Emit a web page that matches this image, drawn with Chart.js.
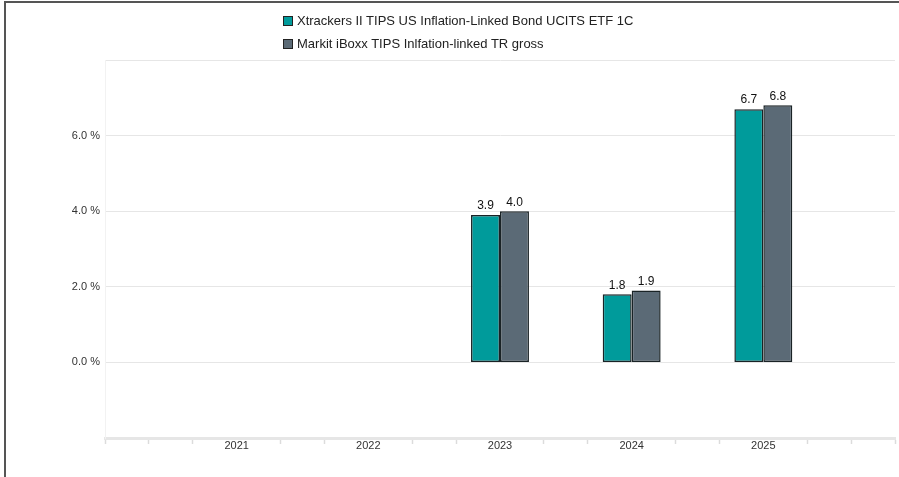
<!DOCTYPE html>
<html>
<head>
<meta charset="utf-8">
<script src="https://cdn.jsdelivr.net/npm/chart.js@4.4.1/dist/chart.umd.min.js"></script>
<style>
  html, body { margin: 0; padding: 0; background: #fff; }
  body { width: 899px; height: 477px; position: relative; overflow: hidden; font-family: "Liberation Sans", Arial, sans-serif; }
  #frame { position: absolute; left: 4px; top: 1px; width: 2000px; height: 2000px; border-top: 2px solid #555; border-left: 2px solid #555; pointer-events: none; }
  #wrap { position: absolute; left: 0; top: 0; width: 899px; height: 477px; }
  #legend { position: absolute; left: 283px; top: 9px; font-size: 13px; color: #222; line-height: 23px; }
  #legend .item { display: flex; align-items: center; white-space: nowrap; }
  #legend .box { width: 8px; height: 8px; border: 1px solid #222; margin-right: 4px; }
</style>
</head>
<body>
<div id="wrap"><canvas id="c" width="899" height="477"></canvas></div>
<div id="legend"></div>
<div id="frame"></div>
<script>
// ---- data ----
const years = ['2021', '2022', '2023', '2024', '2025'];
const etfValues = [null, null, 3.9, 1.8, 6.7];
const indexValues = [null, null, 4.0, 1.9, 6.8];
const seriesNames = ['Xtrackers II TIPS US Inflation-Linked Bond UCITS ETF 1C', 'Markit iBoxx TIPS Inlfation-linked TR gross'];
const yTickLabels = [0, 2, 4, 6];
const colors = ['#009b9b', '#5b6a76'];

// Build a padded category list: each year slot split in thirds so minor ticks fall between years
const SUB = 3;
const labels = [];
const etfPadded = [];
const idxPadded = [];
const slots = years.length + 1;
for (let i = 0; i <= slots * SUB; i++) {
  const yi = i / SUB - 1;
  if (i % SUB === 0 && yi >= 0 && yi < years.length) {
    labels.push(years[yi]);
    etfPadded.push(etfValues[yi]);
    idxPadded.push(indexValues[yi]);
  } else {
    labels.push('');
    etfPadded.push(null);
    idxPadded.push(null);
  }
}

const valueLabels = {
  id: 'valueLabels',
  afterDatasetsDraw(chart) {
    const ctx = chart.ctx;
    ctx.save();
    ctx.font = '12px "Liberation Sans", Arial, sans-serif';
    ctx.fillStyle = '#111';
    ctx.textAlign = 'center';
    ctx.textBaseline = 'bottom';
    chart.data.datasets.forEach((ds, di) => {
      const meta = chart.getDatasetMeta(di);
      meta.data.forEach((el, i) => {
        const v = ds.data[i];
        if (v === null || v === undefined) return;
        ctx.fillText(v.toFixed(1), el.x, el.y - 3);
      });
    });
    ctx.restore();
  }
};

const chart = new Chart(document.getElementById('c'), {
  type: 'bar',
  data: {
    labels: labels,
    datasets: [
      { label: seriesNames[0], data: etfPadded, backgroundColor: colors[0], borderColor: '#1a2326', borderWidth: 1.5, borderSkipped: false },
      { label: seriesNames[1], data: idxPadded, backgroundColor: colors[1], borderColor: '#1a2326', borderWidth: 1.5, borderSkipped: false }
    ]
  },
  options: {
    responsive: false,
    animation: false,
    devicePixelRatio: 1,
    layout: { padding: { top: 60, right: 4, left: 0, bottom: 0 } },
    datasets: { bar: { categoryPercentage: 1.32, barPercentage: 1.0 } },
    plugins: {
      legend: { display: false },
      tooltip: { enabled: false }
    },
    scales: {
      x: {
        offset: false,
        grid: {
          offset: false,
          drawOnChartArea: false,
          drawTicks: true,
          tickLength: 6,
          tickWidth: 1.5,
          tickColor: (c) => (c.tick && c.tick.label) ? 'rgba(0,0,0,0)' : '#dcdcdc'
        },
        border: { display: true, color: '#e6e6e6', width: 3 },
        ticks: {
          autoSkip: false,
          maxRotation: 0,
          padding: -5,
          color: '#333',
          font: { family: '"Liberation Sans", Arial, sans-serif', size: 11 }
        },
        afterFit: (s) => { s.height = 39; }
      },
      y: {
        min: -2,
        max: 8,
        ticks: {
          stepSize: 2,
          padding: 5,
          color: '#333',
          font: { family: '"Liberation Sans", Arial, sans-serif', size: 11 },
          callback: (v) => yTickLabels.includes(v) ? v.toFixed(1) + ' %' : ''
        },
        grid: { color: '#e6e6e6', lineWidth: 1, drawTicks: false },
        border: { display: true, color: '#f2f2f2', width: 1 },
        afterFit: (s) => { s.width = 105; }
      }
    }
  },
  plugins: [valueLabels]
});

// HTML legend from the chart's datasets
const legendEl = document.getElementById('legend');
chart.data.datasets.forEach((ds) => {
  const item = document.createElement('div');
  item.className = 'item';
  const box = document.createElement('span');
  box.className = 'box';
  box.style.background = ds.backgroundColor;
  const txt = document.createElement('span');
  txt.textContent = ds.label;
  item.appendChild(box);
  item.appendChild(txt);
  legendEl.appendChild(item);
});
</script>
</body>
</html>
